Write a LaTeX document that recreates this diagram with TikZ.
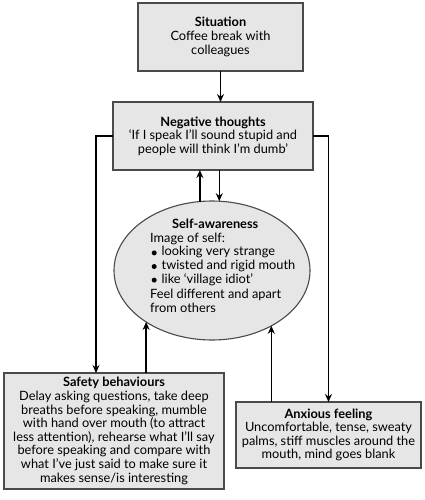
\documentclass[tikz,border=0pt]{standalone}
\usepackage{fontspec}
\setmainfont{Lato}
\usetikzlibrary{arrows.meta,shapes.geometric}
\definecolor{boxfill}{HTML}{E6E6E6}
\definecolor{boxline}{HTML}{4A4A4A}
\newcommand{\bigbul}{\hspace*{1.5pt}\raisebox{0.5pt}{\tikz\fill (0,0) circle (2.5pt);}\hspace{5pt}}
\begin{document}
\begin{tikzpicture}[x=1pt,y=-1pt,
  every node/.style={font=\fontsize{12.8}{13.6}\selectfont},
  panel/.style={draw=boxline,fill=boxfill,line width=1.4pt,align=center,inner sep=0pt,outer sep=0pt},
  arr/.style={line width=1.4pt,-{Stealth[length=8pt,width=7pt]}}]
\useasboundingbox (0,0) rectangle (425,500);
\node[panel,minimum width=165,minimum height=68] (sit) at (220.5,37)
  {\textbf{Situation}\\Coffee break with\\colleagues};
\node[panel,minimum width=200,minimum height=68] (nt) at (213,136)
  {\textbf{Negative thoughts}\\‘If I speak I’ll sound stupid and\\people will think I’m dumb’};
\node[draw=boxline,fill=boxfill,line width=1.1pt,ellipse,minimum width=196,minimum height=139,inner sep=0pt,outer sep=0pt] (sa) at (212,270.5) {};
\node[align=left,anchor=north west,inner sep=0pt] (satext) at (150,219)
  {\makebox[130pt][c]{\textbf{Self-awareness}}\\
   Image of self:\\
   \bigbul looking very strange\\
   \bigbul twisted and rigid mouth\\
   \bigbul like ‘village idiot’\\[2pt]
   Feel different and apart\\
   from others};
\node[panel,minimum width=220,minimum height=116] (sb) at (114,431)
  {\textbf{Safety behaviours}\\Delay asking questions, take deep\\breaths before speaking, mumble\\with hand over mouth (to attract\\less attention), rehearse what I’ll say\\before speaking and compare with\\what I’ve just said to make sure it\\makes sense/is interesting};
\node[panel,minimum width=185,minimum height=66] (an) at (328.5,435)
  {\textbf{Anxious feeling}\\Uncomfortable, tense, sweaty\\palms, stiff muscles around the\\mouth, mind goes blank};
\coordinate (sbl) at (96,373);
\draw[arr] (sit.south) -- (sit.south |- nt.north);
\draw[arr] (nt.west) -| (sbl);
\draw[arr] (nt.east) -| (an.north);
\draw[arr] (sa.100.6) -- (sa.100.6 |- nt.south);
\draw[arr] (sa.84.3 |- nt.south) -- (sa.84.3);
\draw[arr] (sa.218.9 |- sb.north) -- (sa.218.9);
\draw[arr] (sa.317.5 |- an.north) -- (sa.317.5);
\end{tikzpicture}
\end{document}
